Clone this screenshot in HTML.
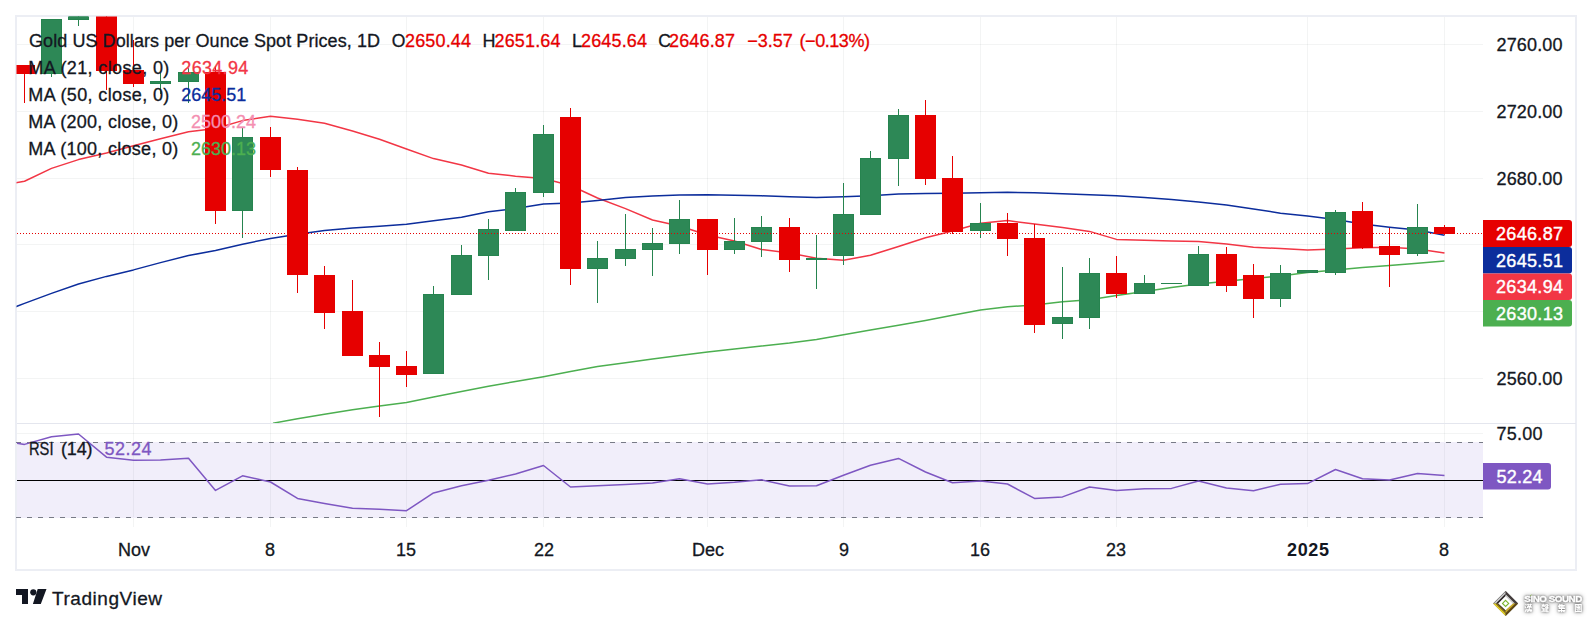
<!DOCTYPE html>
<html><head><meta charset="utf-8"><title>Gold Chart</title>
<style>html,body{margin:0;padding:0;background:#fff;width:1592px;height:625px;overflow:hidden}text{white-space:pre}</style>
</head><body>
<svg width="1592" height="625" viewBox="0 0 1592 625" style="position:absolute;left:0;top:0">
<defs><clipPath id="cm"><rect x="16.5" y="16.5" width="1466.5" height="406.5"/></clipPath><clipPath id="cr"><rect x="17" y="424" width="1466" height="103"/></clipPath></defs>
<rect x="16" y="16" width="1560" height="554" fill="#fff" stroke="#eceef4" stroke-width="2"/>
<path d="M133.5 17V527 M270.5 17V527 M406.5 17V527 M543.5 17V527 M707.5 17V527 M843.5 17V527 M980.5 17V527 M1116.5 17V527 M1307.5 17V527 M1444.5 17V527" stroke="#2a2e39" stroke-opacity="0.055" stroke-width="1" fill="none"/>
<path d="M17 44.5H1483 M17 111.5H1483 M17 178.5H1483 M17 244.5H1483 M17 311.5H1483 M17 378.5H1483 M17 433.5H1483" stroke="#2a2e39" stroke-opacity="0.055" stroke-width="1" fill="none"/>
<path d="M17 423.5H1576" stroke="#e4e6ee" stroke-width="1"/>
<rect x="17" y="442" width="1466" height="76" fill="#f1eefa"/>
<path d="M16 442.5H1483M16 517.5H1483" stroke="#787b86" stroke-width="1" stroke-dasharray="5 6" fill="none"/>
<path d="M133.5 443V517 M270.5 443V517 M406.5 443V517 M543.5 443V517 M707.5 443V517 M843.5 443V517 M980.5 443V517 M1116.5 443V517 M1307.5 443V517 M1444.5 443V517" stroke="#e6e4f0" stroke-width="1" fill="none"/>
<path d="M17 480.5H1483" stroke="#000" stroke-width="1"/>
<path d="M-3.0 186.5 L24.5 181.2 L51.5 168.4 L78.5 159.6 L106.5 152.9 L133.5 145.8 L160.5 138.8 L188.5 131.8 L215.5 128.5 L242.5 120.6 L270.5 116.3 L297.5 119.3 L324.5 123.3 L352.5 131.0 L379.5 139.3 L406.5 149.0 L433.5 158.6 L461.5 165.0 L488.5 173.2 L515.5 176.2 L543.5 178.5 L570.5 185.5 L597.5 198.0 L625.5 208.6 L652.5 220.0 L679.5 226.0 L707.5 235.0 L734.5 241.0 L761.5 249.5 L789.5 253.0 L816.5 258.3 L843.5 260.3 L870.5 255.3 L898.5 246.5 L925.5 237.7 L952.5 231.0 L980.5 223.3 L1007.5 220.6 L1034.5 223.9 L1062.5 227.6 L1089.5 231.4 L1116.5 239.4 L1144.5 240.2 L1171.5 241.0 L1198.5 241.6 L1226.5 244.0 L1253.5 247.3 L1280.5 248.6 L1307.5 250.0 L1335.5 249.0 L1362.5 247.8 L1389.5 247.3 L1417.5 249.0 L1444.5 252.9" stroke="#f23645" stroke-width="1.5" fill="none" stroke-linejoin="round" clip-path="url(#cm)"/>
<path d="M-3.0 314.0 L24.5 303.4 L51.5 293.4 L78.5 284.0 L106.5 276.4 L133.5 269.9 L160.5 262.6 L188.5 255.6 L215.5 250.5 L242.5 244.2 L270.5 238.4 L297.5 234.2 L324.5 230.4 L352.5 227.9 L379.5 226.2 L406.5 224.2 L433.5 220.7 L461.5 217.2 L488.5 211.7 L515.5 208.6 L543.5 204.0 L570.5 203.0 L597.5 200.6 L625.5 197.6 L652.5 196.0 L679.5 195.0 L707.5 194.8 L734.5 195.3 L761.5 195.8 L789.5 196.8 L816.5 197.6 L843.5 196.8 L870.5 195.8 L898.5 194.0 L925.5 193.6 L952.5 193.3 L980.5 192.8 L1007.5 192.3 L1034.5 192.8 L1062.5 193.8 L1089.5 194.8 L1116.5 195.8 L1144.5 197.5 L1171.5 199.5 L1198.5 201.9 L1226.5 205.0 L1253.5 208.9 L1280.5 213.2 L1307.5 216.0 L1335.5 219.4 L1362.5 224.0 L1389.5 227.2 L1417.5 230.0 L1444.5 235.2" stroke="#0c2d9c" stroke-width="1.5" fill="none" stroke-linejoin="round" clip-path="url(#cm)"/>
<path d="M273.0 423.2 L297.5 418.8 L324.5 414.3 L352.5 409.8 L379.5 405.9 L406.5 402.4 L433.5 397.0 L461.5 391.6 L488.5 386.3 L515.5 381.5 L543.5 376.7 L570.5 371.6 L597.5 366.5 L625.5 362.7 L652.5 358.9 L679.5 355.4 L707.5 352.0 L734.5 349.0 L761.5 346.0 L789.5 343.0 L816.5 339.4 L843.5 334.7 L870.5 330.0 L898.5 325.3 L925.5 320.5 L952.5 315.3 L980.5 310.0 L1007.5 306.8 L1034.5 305.0 L1062.5 301.8 L1089.5 299.7 L1116.5 295.5 L1144.5 291.4 L1171.5 287.6 L1198.5 284.1 L1226.5 281.2 L1253.5 278.5 L1280.5 275.9 L1307.5 272.6 L1335.5 270.0 L1362.5 267.4 L1389.5 265.4 L1417.5 263.2 L1444.5 260.9" stroke="#4caf50" stroke-width="1.5" fill="none" stroke-linejoin="round" clip-path="url(#cm)"/>
<g clip-path="url(#cm)" shape-rendering="crispEdges">
<rect x="24" y="65" width="1" height="38" fill="#e60000"/>
<rect x="14" y="65" width="21" height="9" fill="#e60000"/>
<rect x="51" y="19" width="1" height="58" fill="#26844f"/>
<rect x="41" y="19" width="21" height="55" fill="#26844f"/><rect x="42" y="20" width="19" height="53" fill="#2d8856"/>
<rect x="78" y="14" width="1" height="12" fill="#26844f"/>
<rect x="68" y="14" width="21" height="6" fill="#26844f"/><rect x="69" y="15" width="19" height="4" fill="#2d8856"/>
<rect x="106" y="14" width="1" height="76" fill="#e60000"/>
<rect x="96" y="14" width="21" height="57" fill="#e60000"/>
<rect x="133" y="40" width="1" height="47" fill="#e60000"/>
<rect x="123" y="70" width="21" height="14" fill="#e60000"/>
<rect x="160" y="73" width="1" height="21" fill="#26844f"/>
<rect x="150" y="81" width="21" height="3" fill="#26844f"/><rect x="151" y="82" width="19" height="1" fill="#2d8856"/>
<rect x="188" y="68" width="1" height="35" fill="#26844f"/>
<rect x="178" y="72" width="21" height="10" fill="#26844f"/><rect x="179" y="73" width="19" height="8" fill="#2d8856"/>
<rect x="215" y="66" width="1" height="158" fill="#e60000"/>
<rect x="205" y="72" width="21" height="139" fill="#e60000"/>
<rect x="242" y="127" width="1" height="111" fill="#26844f"/>
<rect x="232" y="137" width="21" height="74" fill="#26844f"/><rect x="233" y="138" width="19" height="72" fill="#2d8856"/>
<rect x="270" y="127" width="1" height="50" fill="#e60000"/>
<rect x="260" y="137" width="21" height="33" fill="#e60000"/>
<rect x="297" y="167" width="1" height="126" fill="#e60000"/>
<rect x="287" y="170" width="21" height="105" fill="#e60000"/>
<rect x="324" y="266" width="1" height="63" fill="#e60000"/>
<rect x="314" y="275" width="21" height="38" fill="#e60000"/>
<rect x="352" y="280" width="1" height="76" fill="#e60000"/>
<rect x="342" y="311" width="21" height="45" fill="#e60000"/>
<rect x="379" y="342" width="1" height="75" fill="#e60000"/>
<rect x="369" y="355" width="21" height="12" fill="#e60000"/>
<rect x="406" y="351" width="1" height="36" fill="#e60000"/>
<rect x="396" y="366" width="21" height="9" fill="#e60000"/>
<rect x="433" y="286" width="1" height="88" fill="#26844f"/>
<rect x="423" y="294" width="21" height="80" fill="#26844f"/><rect x="424" y="295" width="19" height="78" fill="#2d8856"/>
<rect x="461" y="245" width="1" height="50" fill="#26844f"/>
<rect x="451" y="255" width="21" height="40" fill="#26844f"/><rect x="452" y="256" width="19" height="38" fill="#2d8856"/>
<rect x="488" y="219" width="1" height="61" fill="#26844f"/>
<rect x="478" y="229" width="21" height="27" fill="#26844f"/><rect x="479" y="230" width="19" height="25" fill="#2d8856"/>
<rect x="515" y="188" width="1" height="43" fill="#26844f"/>
<rect x="505" y="192" width="21" height="39" fill="#26844f"/><rect x="506" y="193" width="19" height="37" fill="#2d8856"/>
<rect x="543" y="125" width="1" height="72" fill="#26844f"/>
<rect x="533" y="134" width="21" height="59" fill="#26844f"/><rect x="534" y="135" width="19" height="57" fill="#2d8856"/>
<rect x="570" y="108" width="1" height="177" fill="#e60000"/>
<rect x="560" y="117" width="21" height="152" fill="#e60000"/>
<rect x="597" y="241" width="1" height="62" fill="#26844f"/>
<rect x="587" y="258" width="21" height="11" fill="#26844f"/><rect x="588" y="259" width="19" height="9" fill="#2d8856"/>
<rect x="625" y="214" width="1" height="52" fill="#26844f"/>
<rect x="615" y="249" width="21" height="10" fill="#26844f"/><rect x="616" y="250" width="19" height="8" fill="#2d8856"/>
<rect x="652" y="228" width="1" height="48" fill="#26844f"/>
<rect x="642" y="243" width="21" height="7" fill="#26844f"/><rect x="643" y="244" width="19" height="5" fill="#2d8856"/>
<rect x="679" y="200" width="1" height="54" fill="#26844f"/>
<rect x="669" y="219" width="21" height="25" fill="#26844f"/><rect x="670" y="220" width="19" height="23" fill="#2d8856"/>
<rect x="707" y="219" width="1" height="56" fill="#e60000"/>
<rect x="697" y="219" width="21" height="31" fill="#e60000"/>
<rect x="734" y="218" width="1" height="36" fill="#26844f"/>
<rect x="724" y="241" width="21" height="9" fill="#26844f"/><rect x="725" y="242" width="19" height="7" fill="#2d8856"/>
<rect x="761" y="216" width="1" height="41" fill="#26844f"/>
<rect x="751" y="227" width="21" height="15" fill="#26844f"/><rect x="752" y="228" width="19" height="13" fill="#2d8856"/>
<rect x="789" y="218" width="1" height="54" fill="#e60000"/>
<rect x="779" y="227" width="21" height="33" fill="#e60000"/>
<rect x="816" y="235" width="1" height="54" fill="#26844f"/>
<rect x="806" y="258" width="21" height="2" fill="#26844f"/>
<rect x="843" y="183" width="1" height="82" fill="#26844f"/>
<rect x="833" y="214" width="21" height="42" fill="#26844f"/><rect x="834" y="215" width="19" height="40" fill="#2d8856"/>
<rect x="870" y="151" width="1" height="64" fill="#26844f"/>
<rect x="860" y="158" width="21" height="57" fill="#26844f"/><rect x="861" y="159" width="19" height="55" fill="#2d8856"/>
<rect x="898" y="109" width="1" height="77" fill="#26844f"/>
<rect x="888" y="115" width="21" height="44" fill="#26844f"/><rect x="889" y="116" width="19" height="42" fill="#2d8856"/>
<rect x="925" y="100" width="1" height="85" fill="#e60000"/>
<rect x="915" y="115" width="21" height="64" fill="#e60000"/>
<rect x="952" y="156" width="1" height="78" fill="#e60000"/>
<rect x="942" y="178" width="21" height="54" fill="#e60000"/>
<rect x="980" y="203" width="1" height="35" fill="#26844f"/>
<rect x="970" y="223" width="21" height="8" fill="#26844f"/><rect x="971" y="224" width="19" height="6" fill="#2d8856"/>
<rect x="1007" y="213" width="1" height="43" fill="#e60000"/>
<rect x="997" y="223" width="21" height="16" fill="#e60000"/>
<rect x="1034" y="224" width="1" height="109" fill="#e60000"/>
<rect x="1024" y="238" width="21" height="87" fill="#e60000"/>
<rect x="1062" y="267" width="1" height="72" fill="#26844f"/>
<rect x="1052" y="317" width="21" height="7" fill="#26844f"/><rect x="1053" y="318" width="19" height="5" fill="#2d8856"/>
<rect x="1089" y="258" width="1" height="71" fill="#26844f"/>
<rect x="1079" y="273" width="21" height="45" fill="#26844f"/><rect x="1080" y="274" width="19" height="43" fill="#2d8856"/>
<rect x="1116" y="256" width="1" height="42" fill="#e60000"/>
<rect x="1106" y="273" width="21" height="21" fill="#e60000"/>
<rect x="1144" y="275" width="1" height="19" fill="#26844f"/>
<rect x="1134" y="283" width="21" height="11" fill="#26844f"/><rect x="1135" y="284" width="19" height="9" fill="#2d8856"/>
<rect x="1171" y="283" width="1" height="1" fill="#26844f"/>
<rect x="1161" y="283" width="21" height="1" fill="#26844f"/>
<rect x="1198" y="246" width="1" height="40" fill="#26844f"/>
<rect x="1188" y="254" width="21" height="32" fill="#26844f"/><rect x="1189" y="255" width="19" height="30" fill="#2d8856"/>
<rect x="1226" y="247" width="1" height="45" fill="#e60000"/>
<rect x="1216" y="254" width="21" height="32" fill="#e60000"/>
<rect x="1253" y="264" width="1" height="54" fill="#e60000"/>
<rect x="1243" y="275" width="21" height="24" fill="#e60000"/>
<rect x="1280" y="265" width="1" height="42" fill="#26844f"/>
<rect x="1270" y="273" width="21" height="26" fill="#26844f"/><rect x="1271" y="274" width="19" height="24" fill="#2d8856"/>
<rect x="1307" y="270" width="1" height="3" fill="#26844f"/>
<rect x="1297" y="270" width="21" height="3" fill="#26844f"/><rect x="1298" y="271" width="19" height="1" fill="#2d8856"/>
<rect x="1335" y="210" width="1" height="65" fill="#26844f"/>
<rect x="1325" y="212" width="21" height="61" fill="#26844f"/><rect x="1326" y="213" width="19" height="59" fill="#2d8856"/>
<rect x="1362" y="202" width="1" height="47" fill="#e60000"/>
<rect x="1352" y="211" width="21" height="37" fill="#e60000"/>
<rect x="1389" y="228" width="1" height="59" fill="#e60000"/>
<rect x="1379" y="246" width="21" height="9" fill="#e60000"/>
<rect x="1417" y="204" width="1" height="52" fill="#26844f"/>
<rect x="1407" y="227" width="21" height="27" fill="#26844f"/><rect x="1408" y="228" width="19" height="25" fill="#2d8856"/>
<rect x="1444" y="225" width="1" height="10" fill="#e60000"/>
<rect x="1434" y="227" width="21" height="7" fill="#e60000"/>
</g>
<path d="M17 233.5H1483" stroke="#e60000" stroke-width="1" stroke-dasharray="1 2" shape-rendering="crispEdges"/>
<path d="M-3.0 439.8 L24.5 444.4 L51.5 436.8 L78.5 434.0 L106.5 457.2 L133.5 460.2 L160.5 460.0 L188.5 458.2 L215.5 490.4 L242.5 475.8 L270.5 482.0 L297.5 498.4 L324.5 503.4 L352.5 508.2 L379.5 509.3 L406.5 510.7 L433.5 492.9 L461.5 485.8 L488.5 480.3 L515.5 474.0 L543.5 465.5 L570.5 487.0 L597.5 485.8 L625.5 484.6 L652.5 483.0 L679.5 478.8 L707.5 484.0 L734.5 482.3 L761.5 479.8 L789.5 486.0 L816.5 485.8 L843.5 475.3 L870.5 465.2 L898.5 458.4 L925.5 472.0 L952.5 482.8 L980.5 481.0 L1007.5 484.0 L1034.5 498.4 L1062.5 496.9 L1089.5 487.0 L1116.5 490.6 L1144.5 488.7 L1171.5 488.4 L1198.5 481.0 L1226.5 487.9 L1253.5 490.8 L1280.5 484.3 L1307.5 483.6 L1335.5 469.5 L1362.5 478.7 L1389.5 480.0 L1417.5 473.4 L1444.5 475.4" stroke="#7e57c2" stroke-width="1.5" fill="none" stroke-linejoin="round" clip-path="url(#cr)"/>
<path d="M1483 220H1569a3 3 0 0 1 3 3V244a3 3 0 0 1 -3 3H1483Z" fill="#e60000"/>
<path d="M1483 247H1569a3 3 0 0 1 3 3V270.5a3 3 0 0 1 -3 3H1483Z" fill="#0c2d9c"/>
<path d="M1483 273.5H1569a3 3 0 0 1 3 3V297a3 3 0 0 1 -3 3H1483Z" fill="#f23645"/>
<path d="M1483 300H1569a3 3 0 0 1 3 3V323.5a3 3 0 0 1 -3 3H1483Z" fill="#4caf50"/>
<path d="M1483 463H1548a3 3 0 0 1 3 3V486.5a3 3 0 0 1 -3 3H1483Z" fill="#7e57c2"/>
<g font-family="Liberation Sans, Arial, sans-serif">
<text x="1496.5" y="51" font-size="18" fill="#131722" stroke="#131722" stroke-width="0.3" textLength="66" lengthAdjust="spacing">2760.00</text>
<text x="1496.5" y="118" font-size="18" fill="#131722" stroke="#131722" stroke-width="0.3" textLength="66" lengthAdjust="spacing">2720.00</text>
<text x="1496.5" y="185" font-size="18" fill="#131722" stroke="#131722" stroke-width="0.3" textLength="66" lengthAdjust="spacing">2680.00</text>
<text x="1496.5" y="385" font-size="18" fill="#131722" stroke="#131722" stroke-width="0.3" textLength="66" lengthAdjust="spacing">2560.00</text>
<text x="1496.5" y="440" font-size="18" fill="#131722" stroke="#131722" stroke-width="0.3" textLength="46" lengthAdjust="spacing">75.00</text>
<text x="1496" y="240" font-size="18" fill="#fff" stroke="#fff" stroke-width="0.4" textLength="67" lengthAdjust="spacing">2646.87</text>
<text x="1496" y="266.7" font-size="18" fill="#fff" stroke="#fff" stroke-width="0.4" textLength="67" lengthAdjust="spacing">2645.51</text>
<text x="1496" y="293.2" font-size="18" fill="#fff" stroke="#fff" stroke-width="0.4" textLength="67" lengthAdjust="spacing">2634.94</text>
<text x="1496" y="319.7" font-size="18" fill="#fff" stroke="#fff" stroke-width="0.4" textLength="67" lengthAdjust="spacing">2630.13</text>
<text x="1496.5" y="483.2" font-size="18" fill="#fff" stroke="#fff" stroke-width="0.4" textLength="46" lengthAdjust="spacing">52.24</text>
<text x="134" y="556" font-size="18" fill="#131722" stroke="#131722" stroke-width="0.3" text-anchor="middle">Nov</text>
<text x="270" y="556" font-size="18" fill="#131722" stroke="#131722" stroke-width="0.3" text-anchor="middle">8</text>
<text x="406" y="556" font-size="18" fill="#131722" stroke="#131722" stroke-width="0.3" text-anchor="middle">15</text>
<text x="544" y="556" font-size="18" fill="#131722" stroke="#131722" stroke-width="0.3" text-anchor="middle">22</text>
<text x="708" y="556" font-size="18" fill="#131722" stroke="#131722" stroke-width="0.3" text-anchor="middle">Dec</text>
<text x="844" y="556" font-size="18" fill="#131722" stroke="#131722" stroke-width="0.3" text-anchor="middle">9</text>
<text x="980" y="556" font-size="18" fill="#131722" stroke="#131722" stroke-width="0.3" text-anchor="middle">16</text>
<text x="1116" y="556" font-size="18" fill="#131722" stroke="#131722" stroke-width="0.3" text-anchor="middle">23</text>
<text x="1444" y="556" font-size="18" fill="#131722" stroke="#131722" stroke-width="0.3" text-anchor="middle">8</text>
<text x="1287" y="556" font-size="18" fill="#131722" stroke="#131722" stroke-width="0" textLength="42" lengthAdjust="spacing" font-weight="bold">2025</text>
<text x="29" y="47.3" font-size="18" fill="#131722" stroke="#131722" stroke-width="0.3" textLength="351" lengthAdjust="spacing">Gold US Dollars per Ounce Spot Prices, 1D</text>
<text x="391.8" y="47.3" font-size="17.5" fill="#131722" stroke="#131722" stroke-width="0.3">O</text>
<text x="405" y="47.3" font-size="18" fill="#e60000" stroke="#e60000" stroke-width="0.3" textLength="66" lengthAdjust="spacing">2650.44</text>
<text x="482.5" y="47.3" font-size="18" fill="#131722" stroke="#131722" stroke-width="0.3">H</text>
<text x="494.5" y="47.3" font-size="18" fill="#e60000" stroke="#e60000" stroke-width="0.3" textLength="66" lengthAdjust="spacing">2651.64</text>
<text x="572" y="47.3" font-size="18" fill="#131722" stroke="#131722" stroke-width="0.3">L</text>
<text x="581" y="47.3" font-size="18" fill="#e60000" stroke="#e60000" stroke-width="0.3" textLength="66" lengthAdjust="spacing">2645.64</text>
<text x="658.2" y="47.3" font-size="17.5" fill="#131722" stroke="#131722" stroke-width="0.3">C</text>
<text x="669" y="47.3" font-size="18" fill="#e60000" stroke="#e60000" stroke-width="0.3" textLength="66" lengthAdjust="spacing">2646.87</text>
<text x="747.3" y="47.3" font-size="18" fill="#e60000" stroke="#e60000" stroke-width="0.3" textLength="45.5" lengthAdjust="spacing">−3.57</text>
<text x="799.5" y="47.3" font-size="18" fill="#e60000" stroke="#e60000" stroke-width="0.3" textLength="70.5" lengthAdjust="spacing">(−0.13%)</text>
<text x="28.3" y="74.2" font-size="18" fill="#131722" stroke="#131722" stroke-width="0.3" textLength="141" lengthAdjust="spacing">MA (21, close, 0)</text>
<text x="181.3" y="74.2" font-size="18" fill="#f23645" stroke="#f23645" stroke-width="0.3" textLength="67" lengthAdjust="spacing">2634.94</text>
<text x="28.3" y="101.2" font-size="18" fill="#131722" stroke="#131722" stroke-width="0.3" textLength="141" lengthAdjust="spacing">MA (50, close, 0)</text>
<text x="181.3" y="101.2" font-size="18" fill="#0c2d9c" stroke="#0c2d9c" stroke-width="0.3" textLength="65" lengthAdjust="spacing">2645.51</text>
<text x="28.3" y="128.2" font-size="18" fill="#131722" stroke="#131722" stroke-width="0.3" textLength="150" lengthAdjust="spacing">MA (200, close, 0)</text>
<text x="191" y="128.2" font-size="18" fill="#f48fb1" stroke="#f48fb1" stroke-width="0.3" textLength="65" lengthAdjust="spacing">2500.24</text>
<text x="28.3" y="155.2" font-size="18" fill="#131722" stroke="#131722" stroke-width="0.3" textLength="150" lengthAdjust="spacing">MA (100, close, 0)</text>
<text x="191" y="155.2" font-size="18" fill="#4caf50" stroke="#4caf50" stroke-width="0.3" textLength="65" lengthAdjust="spacing">2630.13</text>
<text x="29" y="454.8" font-size="18" fill="#131722" stroke="#131722" stroke-width="0.3" textLength="24.5" lengthAdjust="spacingAndGlyphs">RSI</text>
<text x="61" y="454.8" font-size="18" fill="#131722" stroke="#131722" stroke-width="0.3" textLength="31.5" lengthAdjust="spacing">(14)</text>
<text x="104.5" y="454.8" font-size="18" fill="#7e57c2" stroke="#7e57c2" stroke-width="0.3" textLength="47" lengthAdjust="spacing">52.24</text>
<text x="52" y="604.5" font-size="19" fill="#131722" stroke="#131722" stroke-width="0.3" textLength="110" lengthAdjust="spacing">TradingView</text>
</g>
<path d="M16 589H28V604H22V595H16Z M37.7 589H46.5L40.8 604H32.9Z" fill="#131722"/><circle cx="33.3" cy="592.3" r="3.1" fill="#131722"/>
<g transform="translate(1505.6 603.4)"><path d="M0 -12.5L12.5 0L0 12.5L-12.5 0Z" fill="#6a6660"/><path d="M-12.5 0L0 -12.5L0 -11.7L-11.7 0Z" fill="#77777a"/><path d="M-11.7 0L0 -11.7L0 -9.6L-9.6 0Z" fill="#d4d4d6"/><path d="M-9.6 0L0 -9.6L0 -7.4L-7.4 0Z" fill="#2e2828"/><path d="M12.5 0L0 -12.5L0 -9.2L9.2 0Z" fill="#433c3c"/><path d="M9.2 0L0 -9.2L0 -7.4L7.4 0Z" fill="#d9d9da"/><path d="M-12.5 0L0 12.5L0 10.2L-10.2 0Z" fill="#e4d020"/><path d="M-10.2 0L0 10.2L0 8.2L-8.2 0Z" fill="#8a6f14"/><path d="M-8.2 0L0 8.2L0 6.8L-6.8 0Z" fill="#2c2210"/><path d="M12.5 0L0 12.5L0 9.6L9.6 0Z" fill="#5e4612"/><path d="M9.6 0L0 9.6L0 6.8L6.8 0Z" fill="#c9aa22"/><path d="M0 -7.4L7.4 0L0 6.8L-7.4 0Z" fill="#fff"/><path d="M0 -3.1L3.1 0L0 3.1L-3.1 0Z" fill="none" stroke="#7ab62c" stroke-width="1.1"/></g>
<g style="filter:drop-shadow(0 0 1px rgba(0,0,0,.5)) drop-shadow(0 0 2.2px rgba(0,0,0,.4))">
<text x="1524.3" y="602" style="font-family:'Liberation Sans',Arial,sans-serif" font-weight="bold" font-size="9.8" fill="#fff" stroke="#fff" stroke-width="0.4" textLength="58" lengthAdjust="spacing">SINO SOUND</text>
<text x="1524.3" y="611" style="font-family:'Liberation Sans','Noto Sans CJK TC',sans-serif" font-weight="900" font-size="8.1" fill="#fff" textLength="58" lengthAdjust="spacing">漢聲集團</text>
</g>
<path d="M1530.4 595.8L1531.5 594.7" stroke="#7ab62c" stroke-width="0.9"/>
</svg>
</body></html>
